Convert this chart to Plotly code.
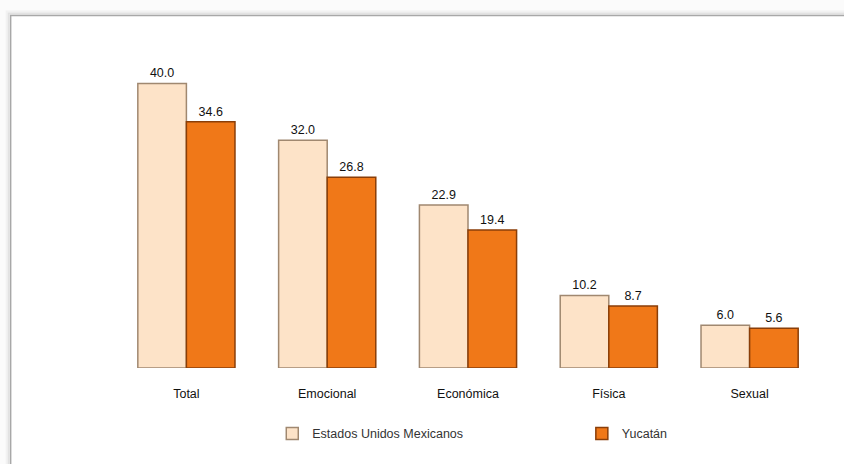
import plotly.graph_objects as go

categories = ["Total", "Emocional", "Económica", "Física", "Sexual"]
mexico = [40.0, 32.0, 22.9, 10.2, 6.0]
yucatan = [34.6, 26.8, 19.4, 8.7, 5.6]
series_names = ["Estados Unidos Mexicanos", "Yucatán"]

W, H = 844, 464
L, R, T, B = 115.5, 23.5, 54.5, 96
pw = W - L - R
ph = H - T - B

def px2paper_x(px):
    return (px - L) / pw

def px2paper_y(py):
    return (H - B - py) / ph

fig = go.Figure()
fig.add_trace(go.Bar(
    x=categories, y=mexico, name=series_names[0],
    marker=dict(color="#FDE3C8", line=dict(color="#A08870", width=1.5)),
    text=[f"{v:.1f}" for v in mexico], textposition="outside",
    textfont=dict(size=12.5, color="#111111"), cliponaxis=False,
    legend="legend",
))
fig.add_trace(go.Bar(
    x=categories, y=yucatan, name=series_names[1],
    marker=dict(color="#F07818", line=dict(color="#8A3E08", width=1.5)),
    text=[f"{v:.1f}" for v in yucatan], textposition="outside",
    textfont=dict(size=12.5, color="#111111"), cliponaxis=False,
    legend="legend2",
))

shapes = []
for off, col in [(4, "#F2F2F2"), (2, "#E2E2E2")]:
    shapes.append(dict(type="rect", xref="paper", yref="paper",
                       x0=px2paper_x(10 - off), x1=px2paper_x(860),
                       y0=px2paper_y(480), y1=px2paper_y(15 - off),
                       line=dict(color=col, width=2), layer="below"))
shapes.append(dict(type="rect", xref="paper", yref="paper",
                   x0=px2paper_x(10), x1=px2paper_x(860),
                   y0=px2paper_y(480), y1=px2paper_y(15),
                   line=dict(color="#A8A8A8", width=1.5),
                   fillcolor="white", layer="below"))

leg_common = dict(orientation="h", xanchor="left", yanchor="middle",
                  y=px2paper_y(434),
                  font=dict(size=12.5, color="#333333"), bgcolor="rgba(0,0,0,0)")

fig.update_layout(
    width=W, height=H,
    margin=dict(l=L, r=R, t=T, b=B),
    paper_bgcolor="#FBFBFB", plot_bgcolor="rgba(0,0,0,0)",
    barmode="group", bargap=0.31, bargroupgap=0.0,
    font=dict(family="Liberation Sans, Arial, sans-serif", size=12, color="#111111"),
    xaxis=dict(showline=False, showgrid=False, ticks="", tickfont=dict(size=12.5),
               ticklabelstandoff=16),
    yaxis=dict(range=[0, 44], visible=False),
    showlegend=True,
    legend=dict(x=px2paper_x(272), **leg_common),
    legend2=dict(x=px2paper_x(582), **leg_common),
    shapes=shapes,
)

fig.write_html("out.html", config={"displayModeBar": False},
               post_script="document.body.style.margin='0';")
